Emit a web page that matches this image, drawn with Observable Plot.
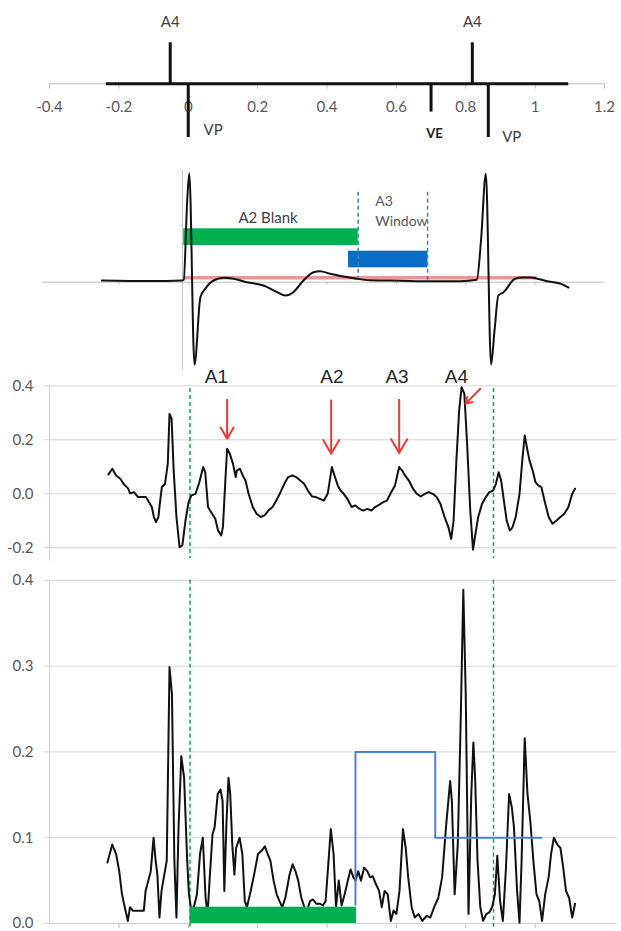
<!DOCTYPE html>
<html><head><meta charset="utf-8">
<script src="https://cdn.jsdelivr.net/npm/d3@7"></script>
<script src="https://cdn.jsdelivr.net/npm/@observablehq/plot@0.6"></script>
<style>
body{margin:0;background:#fff;}
#chart{width:621px;height:931px;position:relative;overflow:hidden;font-family:Lato,"Open Sans",sans-serif;}
#chart svg{position:absolute;left:0;display:block;}
</style></head><body><div id="chart"></div>
<script>
// ---------- shared time axis (s) ----------
const timeTicks = [-0.4, -0.2, 0, 0.2, 0.4, 0.6, 0.8, 1, 1.2];
const innerTicks = [-0.2, 0, 0.2, 0.4, 0.6, 0.8, 1.0];

// ---------- panel 1: marker channel ----------
const eventNames = ["A4", "VP", "VE", "A4", "VP"];
const eventTimes = [-0.052, 0.0, 0.70, 0.819, 0.865];
const eventAmps  = [1.0, -1.31, -0.69, 1.0, -1.31];
const markerSpan = [-0.236, 1.097];

// ---------- panel 2: ventricular EGM ----------
const egmT = [-0.249,-0.110,-0.018,-0.013,-0.003,0.003,0.018,0.035,0.049,0.073,0.102,0.131,0.169,0.217,0.256,0.280,0.303,0.332,0.361,0.380,0.409,0.448,0.486,0.524,0.611,0.697,0.784,0.832,0.844,0.858,0.873,0.883,0.894,0.909,0.942,0.963,0.986,1.034,1.072,1.096];
const egmV = [0.017,0.012,0.017,0.024,0.817,1.09,-0.823,-0.150,-0.066,0.017,0.044,0.034,0,-0.033,-0.100,-0.133,-0.100,0.017,0.100,0.110,0.084,0.057,0.034,0.02,0.015,0.01,0.01,0.024,0.417,1.084,-0.823,-0.483,-0.133,-0.1,0.034,0.047,0.047,0.01,-0.013,-0.053];
const blankWin  = [-0.013, 0.49];   // A2 Blank (time)
const blankLvl  = [0.367, 0.534];
const a3Win     = [0.462, 0.691];   // A3 Window bar
const a3Lvl     = [0.144, 0.31];
const a3Edges   = [0.49, 0.69];
const threshold = 0.044;
const thresholdSpan = [-0.012, 1.005];

// ---------- panel 3: atrial signal ----------
const sig3T = [-0.230,-0.219,-0.208,-0.196,-0.185,-0.173,-0.168,-0.156,-0.145,-0.133,
-0.122,-0.113,-0.105,-0.099,-0.093,-0.086,-0.082,-0.076,-0.067,-0.059,
-0.054,-0.048,-0.042,-0.034,-0.025,-0.017,-0.008,0.001,0.009,0.021,
0.032,0.043,0.049,0.057,0.066,0.078,0.086,0.095,0.100,0.106,
0.112,0.120,0.129,0.137,0.140,0.149,0.157,0.165,0.174,0.186,
0.197,0.209,0.220,0.231,0.243,0.254,0.266,0.277,0.288,0.300,
0.311,0.323,0.334,0.345,0.357,0.368,0.380,0.391,0.402,0.414,
0.423,0.431,0.439,0.448,0.459,0.471,0.482,0.494,0.505,0.516,
0.528,0.539,0.551,0.562,0.573,0.585,0.596,0.608,0.617,0.625,
0.636,0.648,0.659,0.670,0.682,0.693,0.705,0.716,0.727,0.739,
0.750,0.758,0.765,0.773,0.781,0.788,0.796,0.804,0.813,0.821,
0.828,0.836,0.847,0.858,0.868,0.879,0.887,0.895,0.902,0.910,
0.918,0.927,0.935,0.944,0.955,0.963,0.970,0.978,0.984,0.993,
1.001,1.009,1.018,1.027,1.039,1.050,1.062,1.073,1.084,1.096,
1.107,1.115];
const sig3V = [0.072,0.093,0.068,0.056,0.035,0.019,0.002,0.006,-0.012,-0.012,
-0.012,-0.031,-0.049,-0.086,-0.105,-0.086,-0.037,0.025,0.037,0.111,
0.296,0.278,0.086,-0.086,-0.198,-0.191,-0.099,-0.031,-0.006,0,
0.043,0.099,0.080,-0.049,-0.068,-0.093,-0.136,-0.154,-0.123,0.025,
0.167,0.148,0.111,0.062,0.086,0.093,0.068,0.049,0,-0.049,
-0.074,-0.086,-0.080,-0.062,-0.049,-0.025,0.006,0.037,0.062,0.068,
0.062,0.049,0.037,0.012,-0.010,-0.012,-0.019,-0.025,0,0.099,
0.062,0.031,0.012,0,-0.019,-0.049,-0.043,-0.056,-0.062,-0.056,
-0.062,-0.049,-0.040,-0.031,-0.025,0.006,0.031,0.099,0.086,0.068,
0.049,0.019,0,-0.010,0,0.006,0,-0.012,-0.037,-0.086,
-0.123,-0.167,-0.099,0.123,0.309,0.395,0.370,0.185,-0.062,-0.207,
-0.148,-0.086,-0.037,-0.012,0.006,0.012,0.037,0.080,0.049,-0.025,
-0.099,-0.136,-0.123,-0.086,0,0.123,0.216,0.160,0.123,0.086,
0.043,0.031,0.025,-0.025,-0.086,-0.111,-0.099,-0.086,-0.074,-0.049,
0,0.019];
const sig3Ticks = [-0.2, 0, 0.2, 0.4];
const vpMarks = [0.005, 0.88];
const arrowLabels = ["A1", "A2", "A3", "A4"];
const labelT  = [0.081, 0.414, 0.602, 0.773];
const arrowT1 = [0.112, 0.412, 0.608, 0.842];
const arrowV1 = [0.348, 0.346, 0.348, 0.389];
const arrowT2 = [0.112, 0.412, 0.608, 0.799];
const arrowV2 = [0.204, 0.148, 0.151, 0.333];

// ---------- panel 4: rectified signal ----------
const sig4T = [-0.233,-0.219,-0.208,-0.199,-0.191,-0.183,-0.174,-0.168,-0.160,-0.151,
-0.140,-0.128,-0.123,-0.115,-0.108,-0.100,-0.094,-0.089,-0.083,-0.077,
-0.072,-0.062,-0.054,-0.047,-0.040,-0.034,-0.028,-0.020,-0.012,-0.003,
0.002,0.008,0.016,0.025,0.034,0.042,0.050,0.056,0.062,0.070,
0.076,0.085,0.093,0.099,0.104,0.110,0.116,0.121,0.127,0.133,
0.138,0.148,0.156,0.163,0.169,0.178,0.190,0.201,0.212,0.221,
0.229,0.237,0.246,0.255,0.263,0.271,0.280,0.292,0.301,0.309,
0.317,0.326,0.335,0.343,0.351,0.360,0.369,0.380,0.388,0.396,
0.403,0.411,0.419,0.426,0.434,0.442,0.451,0.460,0.468,0.476,
0.482,0.490,0.498,0.507,0.516,0.524,0.532,0.541,0.550,0.558,
0.566,0.575,0.584,0.592,0.600,0.609,0.619,0.627,0.634,0.644,
0.653,0.664,0.675,0.687,0.698,0.709,0.721,0.732,0.743,0.755,
0.760,0.768,0.777,0.785,0.793,0.800,0.808,0.816,0.822,0.827,
0.834,0.842,0.850,0.859,0.868,0.876,0.884,0.891,0.899,0.907,
0.916,0.925,0.933,0.939,0.948,0.955,0.961,0.970,0.978,0.986,
0.995,1.004,1.012,1.020,1.029,1.039,1.046,1.054,1.064,1.073,
1.081,1.089,1.098,1.107,1.115];
const sig4V = [0.071,0.092,0.081,0.061,0.034,0.019,0.003,0.019,0.015,0.015,
0.015,0.015,0.038,0.050,0.061,0.100,0.073,0.057,0.007,0.038,
0.050,0.073,0.299,0.267,0.073,0.007,0.112,0.195,0.170,0.073,
0.034,0.017,0.019,0.034,0.081,0.100,0.030,0.011,0.054,0.104,
0.112,0.151,0.156,0.143,0.038,0.116,0.170,0.151,0.092,0.057,
0.088,0.100,0.081,0.026,0.019,0.034,0.057,0.081,0.085,0.090,
0.081,0.073,0.050,0.034,0.026,0.019,0.030,0.057,0.069,0.061,
0.050,0.030,0.019,0.015,0.026,0.028,0.023,0.023,0.021,0.026,
0.065,0.110,0.081,0.019,0.050,0.021,0.034,0.050,0.063,0.054,
0.050,0.061,0.050,0.065,0.061,0.054,0.055,0.046,0.038,0.019,
0.038,0.034,0.003,0.015,0.011,0.038,0.110,0.088,0.054,0.019,
0.007,0.011,0.003,0.009,0.007,0.019,0.030,0.054,0.112,0.166,
0.143,0.034,0.092,0.228,0.389,0.267,0.011,0.151,0.211,0.170,
0.073,0.019,0.003,0.011,0.013,0.019,0.034,0.079,0.026,0.003,
0.065,0.151,0.135,0.112,0.038,0.001,0.073,0.216,0.151,0.120,
0.073,0.034,0.026,0.003,0.034,0.054,0.081,0.100,0.092,0.088,
0.065,0.038,0.030,0.007,0.023];
const sig4Ticks = [0, 0.1, 0.2, 0.3, 0.4];
const stepT = [0.482, 0.482, 0.712, 0.712, 1.018];
const stepV = [0.022, 0.2, 0.2, 0.1, 0.1];
const blank4Win = [0.005, 0.485];
const blank4Lvl = [0, 0.019];

// ---------- layout ----------
const W = 621, ML = 49, MR = 4;
const xScale = {domain: [-0.4, 1.2375]};
const GRID = "#d4d4d4", AXIS = "#bfbfbf", TXT = "#595959";
const base = {width: W, marginLeft: ML, marginRight: MR,
  style: {background: "transparent", overflow: "visible", fontFamily: "Lato, 'Open Sans', sans-serif"}};
const root = document.getElementById("chart");
function place(svg, top) { svg.style.top = top + "px"; root.appendChild(svg); }

// Panel 1
place(Plot.plot({...base, height: 160, marginTop: 0, marginBottom: 0,
  x: {...xScale, axis: null}, y: {domain: [-1.871, 2.032], axis: null},
  marks: [
    Plot.ruleY([0], {x1: -0.4, x2: 1.2, stroke: AXIS, strokeWidth: 1}),
    Plot.ruleX(timeTicks, {x: d => d, y1: 0, y2: -0.13, stroke: AXIS}),
    Plot.text(timeTicks, {x: d => d, y: -0.58, text: d => String(d), fill: TXT, fontSize: 15}),
    Plot.ruleY([0], {x1: markerSpan[0], x2: markerSpan[1], stroke: "#111", strokeWidth: 3}),
    Plot.ruleX(eventTimes, {x: d => d, y1: 0, y2: eventAmps, stroke: "#111", strokeWidth: 3}),
    Plot.text([0, 3], {x: i => eventTimes[i], y: 1.5, text: i => eventNames[i], fill: "#404040", fontSize: 15}),
    Plot.text([1], {x: 0.044, y: -1.14, text: i => eventNames[i], fill: "#404040", fontSize: 15, textAnchor: "start"}),
    Plot.text([4], {x: 0.905, y: -1.31, text: i => eventNames[i], fill: "#404040", fontSize: 15, textAnchor: "start"}),
    Plot.text([2], {x: 0.686, y: -1.21, text: i => eventNames[i], fill: "#222", fontSize: 13, fontWeight: "bold", textAnchor: "start"})
  ]}), 0);

// Panel 2
place(Plot.plot({...base, height: 212, marginTop: 0, marginBottom: 0,
  x: {...xScale, axis: null}, y: {domain: [-0.903, 1.217], axis: null},
  marks: [
    Plot.ruleY([0], {x1: -0.42, x2: 1.2, stroke: AXIS}),
    Plot.ruleX(innerTicks, {x: d => d, y1: 0, y2: -0.03, stroke: AXIS}),
    Plot.ruleX([-0.017], {y1: 1.12, y2: -0.88, stroke: AXIS}),
    Plot.rect([0], {x1: blankWin[0], x2: blankWin[1], y1: blankLvl[0], y2: blankLvl[1], fill: "#00b050"}),
    Plot.rect([0], {x1: a3Win[0], x2: a3Win[1], y1: a3Lvl[0], y2: a3Lvl[1], fill: "#0a6cc2"}),
    Plot.ruleY([threshold], {x1: thresholdSpan[0], x2: thresholdSpan[1], stroke: "#d9534f", strokeOpacity: 0.6, strokeWidth: 3.5}),
    Plot.ruleX(a3Edges, {x: d => d, y1: 0.9, y2: 0.017, stroke: "#4a7ebb", strokeWidth: 1.5, strokeDasharray: "4,3"}),
    Plot.line(egmT, {x: egmT, y: egmV, stroke: "#111", strokeWidth: 2, curve: "monotone-x"}),
    Plot.text(["A2 Blank"], {x: 0.23, y: 0.642, text: d => d, fill: "#404040", fontSize: 15}),
    Plot.text(["A3", "Window"], {x: 0.539, y: [0.807, 0.607], text: d => d, fill: TXT, fontSize: 14, textAnchor: "start"})
  ]}), 160);

// Panel 3
place(Plot.plot({...base, height: 194, marginTop: 0, marginBottom: 0,
  x: {...xScale, axis: null}, y: {domain: [-0.247, 0.4715]},
  marks: [
    Plot.gridY({ticks: sig3Ticks, stroke: GRID, strokeOpacity: 1}),
    Plot.axisY({ticks: sig3Ticks, tickSize: 5, tickPadding: 11, tickFormat: d => d.toFixed(1), label: null, stroke: GRID, fill: TXT, fontSize: 15}),
    Plot.ruleX([-0.4], {y1: 0.4, y2: -0.25, stroke: GRID}),
    Plot.ruleX(vpMarks, {x: d => d, y1: 0.39, y2: -0.24, stroke: "#00b050", strokeWidth: 1.5, strokeDasharray: "4,3"}),
    Plot.line(sig3T, {x: sig3T, y: sig3V, stroke: "#111", strokeWidth: 2}),
    Plot.arrow(arrowLabels, {x1: arrowT1, y1: arrowV1, x2: arrowT2, y2: arrowV2, stroke: "#f03a3a", strokeWidth: 2, headLength: 12}),
    Plot.text(arrowLabels, {x: labelT, y: 0.432, text: d => d, fill: "#262626", fontSize: 19, fontFamily: "'Liberation Sans', Arial, sans-serif"})
  ]}), 366);

// Panel 4
place(Plot.plot({...base, height: 371, marginTop: 0, marginBottom: 8,
  x: xScale, y: {domain: [0, 0.4231]},
  marks: [
    Plot.gridY({ticks: sig4Ticks, stroke: GRID, strokeOpacity: 1}),
    Plot.axisY({ticks: sig4Ticks, tickSize: 5, tickPadding: 11, tickFormat: d => d.toFixed(1), label: null, stroke: GRID, fill: TXT, fontSize: 15}),
    Plot.axisX({ticks: innerTicks, tickSize: 5, tickFormat: () => "", label: null, stroke: AXIS}),
    Plot.ruleX([-0.4], {y1: 0.4, y2: 0, stroke: GRID}),
    Plot.ruleX(vpMarks, {x: d => d, y1: 0.4, y2: -0.005, stroke: "#00b050", strokeWidth: 1.5, strokeDasharray: "4,3"}),
    Plot.line(sig4T, {x: sig4T, y: sig4V, stroke: "#111", strokeWidth: 2}),
    Plot.line(stepT, {x: stepT, y: stepV, stroke: "#4a86cf", strokeWidth: 2}),
    Plot.rect([0], {x1: blank4Win[0], x2: blank4Win[1], y1: blank4Lvl[0], y2: blank4Lvl[1], fill: "#00b050"})
  ]}), 560);
</script></body></html>
